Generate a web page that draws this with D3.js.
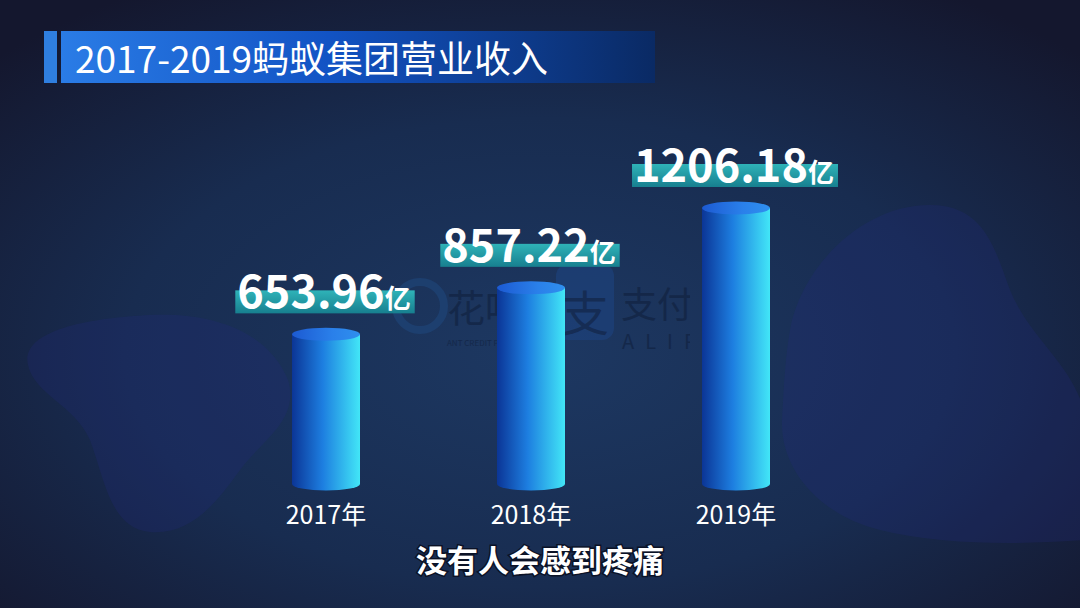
<!DOCTYPE html>
<html>
<head>
<meta charset="utf-8">
<script src="https://cdn.jsdelivr.net/npm/d3@7"></script>
<style>
  html, body { margin: 0; padding: 0; background: #141d36; }
  svg { display: block; }
  text { font-family: "Noto Sans CJK SC", "Noto Sans", sans-serif; }
</style>
</head>
<body>
<svg id="chart" width="1080" height="608"></svg>
<script>
// Ant Group revenue, 100-million CNY (亿元)
const years = ["2017年", "2018年", "2019年"];
const revenue = [653.96, 857.22, 1206.18];
const valueLabels = ["653.96", "857.22", "1206.18"];
const unit = "亿";
const title = "2017-2019蚂蚁集团营业收入";
const caption = "没有人会感到疼痛";

const W = 1080, H = 608;
const svg = d3.select("#chart");
const defs = svg.append("defs");

// ---------- background ----------
const bg = defs.append("radialGradient").attr("id", "bg")
  .attr("cx", "50%").attr("cy", "58%").attr("r", "70%");
bg.append("stop").attr("offset", "0%").attr("stop-color", "#1d3862");
bg.append("stop").attr("offset", "55%").attr("stop-color", "#182c50");
bg.append("stop").attr("offset", "100%").attr("stop-color", "#14172e");
svg.append("rect").attr("width", W).attr("height", H).attr("fill", "url(#bg)");

// soft decorative blobs
const blobFill = "#262a86";
svg.append("path")
  .attr("d", "M28,365 C20,330 90,318 150,315 C210,312 268,330 288,380 C300,420 262,440 240,470 C215,505 190,535 150,532 C110,528 105,480 90,440 C75,405 35,395 28,365 Z")
  .attr("fill", blobFill).attr("opacity", 0.22);
svg.append("path")
  .attr("d", "M790,330 C800,270 860,205 930,205 C985,205 995,250 1010,290 C1030,340 1080,370 1085,420 L1085,540 C1020,545 940,545 880,530 C820,515 780,470 782,420 C784,385 785,360 790,330 Z")
  .attr("fill", blobFill).attr("opacity", 0.22);

// faint brand watermark behind the bars, cut off on the right
defs.append("clipPath").attr("id", "markClip")
  .append("rect").attr("x", 380).attr("y", 250).attr("width", 310).attr("height", 110);
const marks = svg.append("g").attr("clip-path", "url(#markClip)").attr("opacity", 0.6);
marks.append("circle").attr("cx", 420).attr("cy", 306).attr("r", 24)
  .attr("fill", "none").attr("stroke", "#1f477c").attr("stroke-width", 8);
marks.append("text").attr("x", 447).attr("y", 322).attr("font-size", 38)
  .attr("fill", "#10203d").text("花呗");
marks.append("text").attr("x", 447).attr("y", 346).attr("font-size", 8)
  .attr("font-family", "Liberation Sans").attr("fill", "#10203d").text("ANT CREDIT PAY");
marks.append("rect").attr("x", 556).attr("y", 264).attr("width", 58).attr("height", 76)
  .attr("rx", 12).attr("fill", "#1d4380");
marks.append("text").attr("x", 585).attr("y", 331).attr("text-anchor", "middle")
  .attr("font-size", 48).attr("fill", "#12274e").text("支");
marks.append("text").attr("x", 621).attr("y", 318).attr("font-size", 36)
  .attr("fill", "#10203d").text("支付宝");
marks.append("text").attr("x", 622).attr("y", 349).attr("font-size", 20)
  .attr("font-family", "Liberation Sans").attr("letter-spacing", 11)
  .attr("fill", "#10203d").text("ALIPAY");

// ---------- title ----------
const tg = defs.append("linearGradient").attr("id", "titleGrad");
tg.append("stop").attr("offset", "0%").attr("stop-color", "#2a7ce6");
tg.append("stop").attr("offset", "45%").attr("stop-color", "#1253c4");
tg.append("stop").attr("offset", "100%").attr("stop-color", "#0a2a64");
svg.append("rect").attr("x", 44).attr("y", 31).attr("width", 13).attr("height", 52)
  .attr("fill", "#2f7fe0");
svg.append("rect").attr("x", 61).attr("y", 31).attr("width", 594).attr("height", 52)
  .attr("fill", "url(#titleGrad)");
svg.append("text").attr("x", 75).attr("y", 73).attr("font-size", 37)
  .attr("fill", "#ffffff").text(title);

// ---------- scales ----------
const x = d3.scalePoint().domain(years).range([326, 736]);
const y = d3.scaleLinear().domain([0, d3.max(revenue)]).range([484, 208]);

const rx = 34, ry = 6.5;

const bodyGrad = defs.append("linearGradient").attr("id", "body");
bodyGrad.append("stop").attr("offset", "0%").attr("stop-color", "#0b3596");
bodyGrad.append("stop").attr("offset", "45%").attr("stop-color", "#1d7ee0");
bodyGrad.append("stop").attr("offset", "100%").attr("stop-color", "#42e6f7");

const topGrad = defs.append("linearGradient").attr("id", "top");
topGrad.append("stop").attr("offset", "0%").attr("stop-color", "#1c5ad2");
topGrad.append("stop").attr("offset", "60%").attr("stop-color", "#2a80ea");
topGrad.append("stop").attr("offset", "100%").attr("stop-color", "#2f8fee");

const bars = svg.append("g").selectAll("g").data(years).join("g");

bars.append("path")
  .attr("fill", "url(#body)")
  .attr("d", (d, i) => {
    const cx = x(d), top = y(revenue[i]), base = y(0);
    return `M${cx - rx},${top} L${cx - rx},${base} A${rx},${ry} 0 0 0 ${cx + rx},${base} L${cx + rx},${top} Z`;
  });

bars.append("ellipse")
  .attr("cx", d => x(d))
  .attr("cy", (d, i) => y(revenue[i]))
  .attr("rx", rx).attr("ry", ry)
  .attr("fill", "url(#top)");

// year labels
bars.append("text")
  .attr("x", d => x(d))
  .attr("y", 524)
  .attr("text-anchor", "middle")
  .attr("font-size", 25)
  .attr("fill", "#ffffff")
  .text(d => d);

// ---------- value labels with teal highlight band ----------
const bandGrad = defs.append("linearGradient").attr("id", "band")
  .attr("x1", 0).attr("y1", 0).attr("x2", 0).attr("y2", 1);
bandGrad.append("stop").attr("offset", "0%").attr("stop-color", "#2fb3b8");
bandGrad.append("stop").attr("offset", "100%").attr("stop-color", "#177f8f");

const labels = svg.append("g").selectAll("g").data(years).join("g");
labels.each(function (d, i) {
  const g = d3.select(this);
  const base = y(revenue[i]) - 26;
  const band = g.append("rect").attr("fill", "url(#band)");
  const t = g.append("text")
    .attr("y", base)
    .attr("font-weight", 700)
    .attr("fill", "#ffffff");
  t.append("tspan").attr("font-size", 45).text(valueLabels[i]);
  t.append("tspan").attr("font-size", 26).text(unit);
  const w = t.node().getComputedTextLength();
  const left = x(d) - 2 - w / 2;
  t.attr("x", left);
  band.attr("x", left - 2).attr("y", base - 18).attr("width", w + 6).attr("height", 23);
});

// ---------- caption ----------
svg.append("text")
  .attr("x", 540).attr("y", 572)
  .attr("text-anchor", "middle")
  .attr("font-size", 31)
  .attr("font-weight", 700)
  .attr("fill", "#ffffff")
  .attr("stroke", "#0b1226").attr("stroke-width", 3)
  .attr("paint-order", "stroke")
  .text(caption);
</script>
</body>
</html>
